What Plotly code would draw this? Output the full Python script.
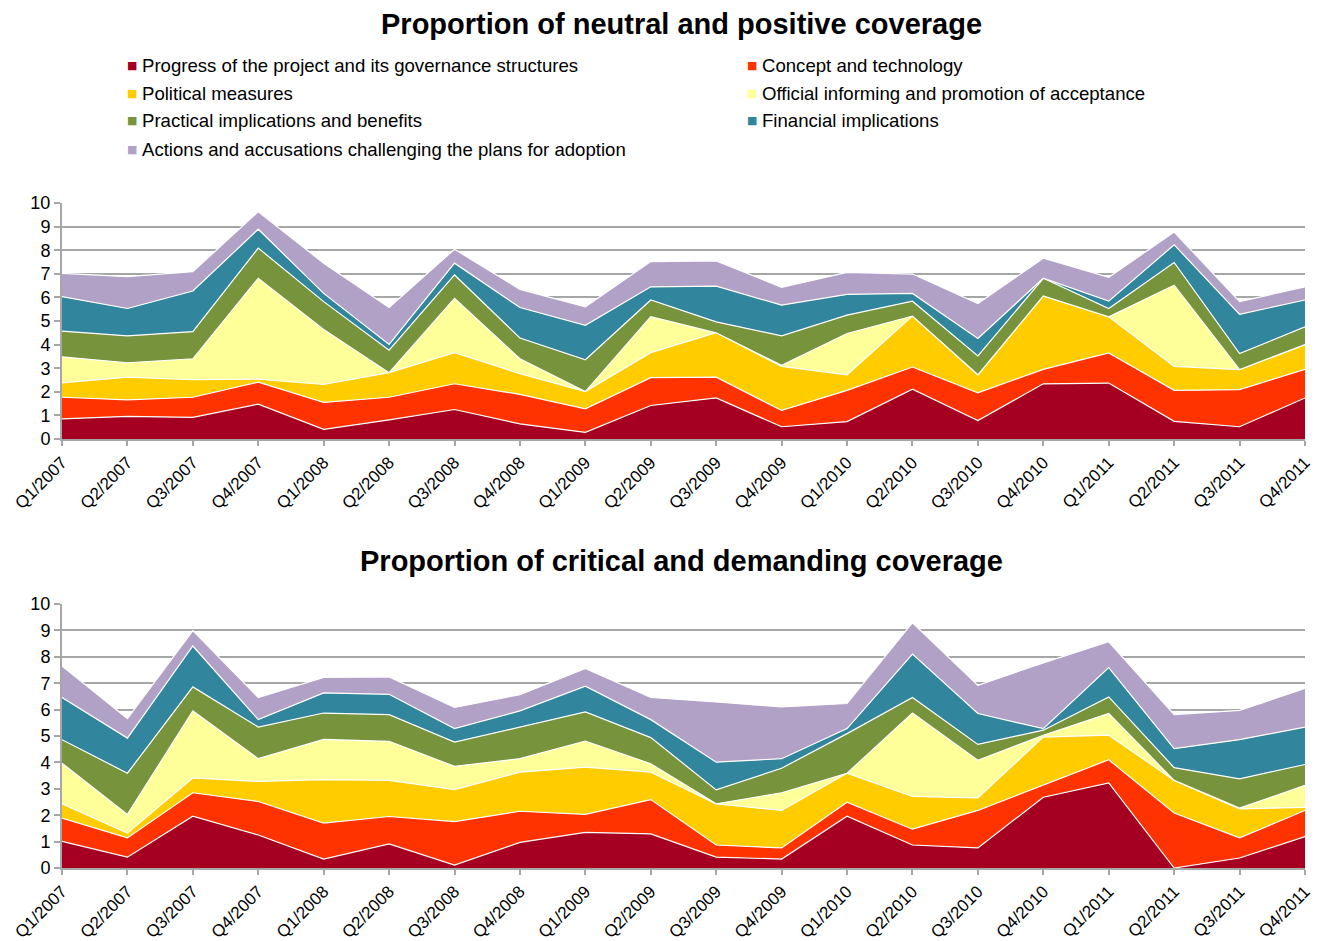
import plotly.graph_objects as go

quarters = ["Q1/2007", "Q2/2007", "Q3/2007", "Q4/2007", "Q1/2008", "Q2/2008", "Q3/2008",
            "Q4/2008", "Q1/2009", "Q2/2009", "Q3/2009", "Q4/2009", "Q1/2010", "Q2/2010",
            "Q3/2010", "Q4/2010", "Q1/2011", "Q2/2011", "Q3/2011", "Q4/2011"]

series_names = [
    "Progress of the project and its governance structures",
    "Concept and technology",
    "Political measures",
    "Official informing and promotion of acceptance",
    "Practical implications and benefits",
    "Financial implications",
    "Actions and accusations challenging the plans for adoption",
]
colors = ["#A50021", "#FF3300", "#FFCC00", "#FFFF99", "#77933C", "#31859C", "#B2A1C7"]

# Top chart: neutral and positive coverage
pos_progress = [0.85, 0.96, 0.92, 1.48, 0.41, 0.81, 1.25, 0.64, 0.28, 1.42, 1.74, 0.52, 0.74, 2.11, 0.78, 2.34, 2.37, 0.75, 0.52, 1.74]
pos_concept = [0.92, 0.70, 0.85, 0.93, 1.14, 0.96, 1.09, 1.25, 1.00, 1.18, 0.88, 0.69, 1.32, 0.94, 1.18, 0.61, 1.28, 1.31, 1.57, 1.21]
pos_political = [0.61, 0.96, 0.74, 0.13, 0.76, 1.04, 1.32, 0.88, 0.73, 1.06, 1.88, 1.87, 0.66, 2.16, 0.76, 3.11, 1.53, 1.02, 0.85, 1.05]
pos_official = [1.10, 0.61, 0.89, 4.27, 2.33, 0.00, 2.30, 0.63, 0.00, 1.52, 0.00, 0.04, 1.75, 0.00, 0.00, 0.00, 0.00, 3.44, 0.00, 0.00]
pos_practical = [1.09, 1.14, 1.15, 1.28, 1.18, 0.95, 0.99, 0.88, 1.35, 0.71, 0.46, 1.25, 0.78, 0.63, 0.80, 0.75, 0.35, 0.96, 0.68, 0.75]
pos_financial = [1.46, 1.16, 1.72, 0.80, 0.35, 0.25, 0.50, 1.29, 1.46, 0.56, 1.52, 1.30, 0.88, 0.33, 0.74, 0.00, 0.31, 0.75, 1.66, 1.14]
pos_actions = [0.99, 1.35, 0.82, 0.74, 1.28, 1.56, 0.59, 0.77, 0.78, 1.07, 1.07, 0.76, 0.93, 0.82, 1.48, 0.85, 1.01, 0.54, 0.54, 0.56]

# Bottom chart: critical and demanding coverage
crit_progress = [1.01, 0.41, 1.96, 1.25, 0.34, 0.91, 0.11, 0.97, 1.35, 1.29, 0.41, 0.34, 1.96, 0.87, 0.76, 2.68, 3.22, 0.00, 0.38, 1.19]
crit_concept = [0.88, 0.73, 0.89, 1.27, 1.36, 1.04, 1.65, 1.18, 0.68, 1.30, 0.46, 0.42, 0.53, 0.60, 1.42, 0.45, 0.88, 2.08, 0.76, 0.99]
crit_political = [0.54, 0.18, 0.56, 0.76, 1.65, 1.37, 1.21, 1.48, 1.79, 1.04, 1.56, 1.42, 1.10, 1.24, 0.48, 1.83, 0.93, 1.24, 1.10, 0.12]
crit_official = [1.54, 0.71, 2.54, 0.86, 1.52, 1.48, 0.88, 0.51, 0.99, 0.32, 0.00, 0.67, 0.00, 3.16, 1.42, 0.07, 0.82, 0.00, 0.03, 0.83]
crit_practical = [0.89, 1.56, 0.91, 1.20, 1.00, 1.01, 0.92, 1.20, 1.10, 0.99, 0.53, 0.93, 1.50, 0.59, 0.60, 0.19, 0.63, 0.48, 1.11, 0.79]
crit_financial = [1.60, 1.33, 1.55, 0.28, 0.76, 0.77, 0.51, 0.61, 0.98, 0.68, 1.05, 0.36, 0.19, 1.64, 1.17, 0.06, 1.11, 0.72, 1.48, 1.42]
crit_actions = [1.19, 0.74, 0.58, 0.84, 0.59, 0.66, 0.80, 0.62, 0.67, 0.84, 2.28, 1.96, 0.95, 1.19, 1.07, 2.49, 0.98, 1.29, 1.11, 1.46]

top_series = [pos_progress, pos_concept, pos_political, pos_official, pos_practical, pos_financial, pos_actions]
bottom_series = [crit_progress, crit_concept, crit_political, crit_official, crit_practical, crit_financial, crit_actions]

titles = ["Proportion of neutral and positive coverage", "Proportion of critical and demanding coverage"]
y_ticks = list(range(0, 11))

W, H = 1317, 941
FONT = "Liberation Sans, Arial, sans-serif"

fig = go.Figure()

for name, col, vals in zip(series_names, colors, top_series):
    fig.add_trace(go.Scatter(
        x=quarters, y=vals, name=name, stackgroup="top", mode="lines",
        line=dict(color="white", width=1.2), fillcolor=col,
        xaxis="x", yaxis="y", showlegend=False))

for name, col, vals in zip(series_names, colors, bottom_series):
    fig.add_trace(go.Scatter(
        x=quarters, y=vals, name=name, stackgroup="bottom", mode="lines",
        line=dict(color="white", width=1.2), fillcolor=col,
        xaxis="x2", yaxis="y2", showlegend=False))


def py(p):
    return 1 - p / H


xcommon = dict(
    type="category", range=[0, len(quarters) - 1], tickangle=-45,
    tickfont=dict(family=FONT, size=17, color="black"),
    showline=True, linecolor="#A6A6A6", linewidth=2,
    ticks="outside", ticklen=5, tickcolor="#A6A6A6", tickwidth=1.5,
    showgrid=False, automargin=False, zeroline=False,
)
ycommon = dict(
    range=[0, 10], tickvals=y_ticks, ticktext=[str(v) for v in y_ticks],
    tickfont=dict(family=FONT, size=18, color="black"),
    showline=True, linecolor="#A6A6A6", linewidth=2,
    ticks="outside", ticklen=6, tickcolor="#A6A6A6", tickwidth=1.5,
    showgrid=True, gridcolor="#A6A6A6", gridwidth=1.5,
    automargin=False, zeroline=False, layer="below traces",
)

fig.update_layout(
    width=W, height=H,
    margin=dict(l=62, r=12, t=0, b=0),
    paper_bgcolor="white", plot_bgcolor="white",
    xaxis=dict(domain=[0, 1], anchor="y", **xcommon),
    yaxis=dict(domain=[py(439), py(203)], anchor="x", **ycommon),
    xaxis2=dict(domain=[0, 1], anchor="y2", **xcommon),
    yaxis2=dict(domain=[py(868), py(604)], anchor="x2", **ycommon),
    showlegend=False,
)

annotations = []
# Titles
for t, ypix in zip(titles, [24, 561]):
    annotations.append(dict(
        text="<b>" + t + "</b>", x=681, y=ypix, xref="paper", yref="paper",
        showarrow=False, font=dict(family=FONT, size=29, color="black"),
        xanchor="center", yanchor="middle"))

# Legend (two columns)
leg_cols = [132, 752]
leg_rows = [65, 93, 121, 149]
for i, (name, col) in enumerate(zip(series_names, colors)):
    cx = leg_cols[i % 2]
    cy = leg_rows[i // 2]
    annotations.append(dict(
        text="■", x=cx, y=cy, xref="paper", yref="paper", showarrow=False,
        font=dict(family="DejaVu Sans", size=11, color=col),
        xanchor="center", yanchor="middle"))
    annotations.append(dict(
        text=name, x=cx + 8, y=cy, xref="paper", yref="paper", showarrow=False,
        font=dict(family=FONT, size=18.6, color="black"),
        xanchor="left", yanchor="middle"))

# convert pixel annotation coords to paper fractions
plot_w = W - 62 - 12
for a in annotations:
    a["x"] = (a["x"] - 62) / plot_w
    a["y"] = py(a["y"])

fig.update_layout(annotations=annotations)

fig.write_html("out.html")
